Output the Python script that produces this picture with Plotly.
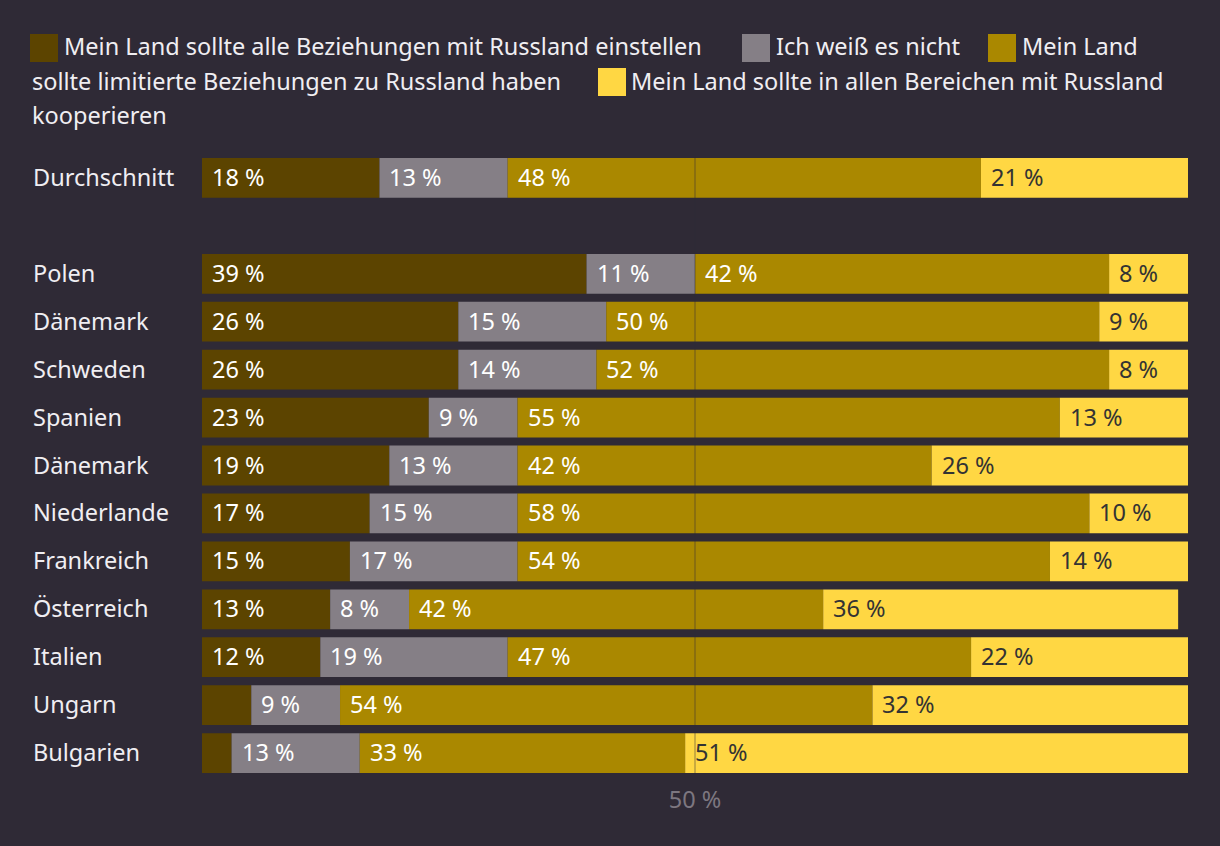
import plotly.graph_objects as go

# ---- data ----
countries = ["Durchschnitt", "Polen", "Dänemark", "Schweden", "Spanien", "Dänemark",
             "Niederlande", "Frankreich", "Österreich", "Italien", "Ungarn", "Bulgarien"]
slots = [0, 2, 3, 4, 5, 6, 7, 8, 9, 10, 11, 12]
end_rel = [18, 39, 26, 26, 23, 19, 17, 15, 13, 12, 5, 3]
dont_know = [13, 11, 15, 14, 9, 13, 15, 17, 8, 19, 9, 13]
limited = [48, 42, 50, 52, 55, 42, 58, 54, 42, 47, 54, 33]
cooperate = [21, 8, 9, 8, 13, 26, 10, 14, 36, 22, 32, 51]

series_names = ["Mein Land sollte alle Beziehungen mit Russland einstellen",
                "Ich weiß es nicht",
                "Mein Land sollte limitierte Beziehungen zu Russland haben",
                "Mein Land sollte in allen Bereichen mit Russland kooperieren"]
series_values = [end_rel, dont_know, limited, cooperate]
colors = ["#5c4400", "#857f86", "#aa8800", "#ffd743"]
label_colors = ["#ffffff", "#ffffff", "#ffffff", "#333333"]
x_ticks = [50]
x_ticklabels = ["50 %"]

BG = "#2f2a36"
FONT = "Noto Sans"
FS = 23.5

W, H = 1220, 846
ML, MR, MT, MB = 202, 32, 154, 69
PW, PH = W - ML - MR, H - MT - MB


def px_x(px):
    return (px - ML) / PW


def px_y(py):
    return (H - MB - py) / PH


fig = go.Figure()
annotations = []
bases_all = [[0] * len(slots)]
for i, vals in enumerate(series_values):
    base = bases_all[-1]
    fig.add_trace(go.Bar(
        y=slots, x=vals, base=base, orientation="h", width=0.83,
        marker=dict(color=colors[i], line=dict(width=0)),
        name=series_names[i], showlegend=False, hoverinfo="x+name"))
    for s, v, b in zip(slots, vals, base):
        if v >= 6:
            annotations.append(dict(
                x=b, y=s, xref="x", yref="y", text=f"{v} %", showarrow=False,
                xanchor="left", yanchor="middle", xshift=8, yshift=1,
                font=dict(family=FONT, size=FS, color=label_colors[i])))
    bases_all.append([b + v for b, v in zip(base, vals)])

# country labels, left-aligned
for c, s in zip(countries, slots):
    annotations.append(dict(
        x=px_x(31), y=s, xref="paper", yref="y", text=c, showarrow=False,
        xanchor="left", yanchor="middle", yshift=1,
        font=dict(family=FONT, size=FS, color="#f0eef2")))

# legend (flowing text with squares)
legend_font = dict(family=FONT, size=FS, color="#f0eef2")
legend_texts = [
    (62, 46, "Mein Land sollte alle Beziehungen mit Russland einstellen"),
    (774, 46, "Ich weiß es nicht"),
    (1020, 46, "Mein Land"),
    (30, 81, "sollte limitierte Beziehungen zu Russland haben"),
    (629, 81, "Mein Land sollte in allen Bereichen mit Russland"),
    (30, 115, "kooperieren"),
]
for x, y, t in legend_texts:
    annotations.append(dict(x=px_x(x), y=px_y(y), xref="paper", yref="paper", text=t,
                            showarrow=False, xanchor="left", yanchor="middle",
                            font=legend_font))

shapes = []
legend_squares = [(30, 34, 0), (742, 34, 1), (988, 34, 2), (598, 68, 3)]
for x, y, ci in legend_squares:
    shapes.append(dict(type="rect", xref="paper", yref="paper",
                       x0=px_x(x), x1=px_x(x + 28), y0=px_y(y + 28), y1=px_y(y),
                       fillcolor=colors[ci], line=dict(width=0), layer="above"))

# 50% reference line on top of bars
shapes.append(dict(type="line", xref="x", yref="y", x0=50, x1=50, y0=-0.42, y1=12.42,
                   line=dict(color="rgba(47,42,54,0.35)", width=1.5), layer="above"))

fig.update_layout(
    width=W, height=H, barmode="overlay",
    paper_bgcolor=BG, plot_bgcolor=BG,
    margin=dict(l=ML, r=MR, t=MT, b=MB),
    annotations=annotations, shapes=shapes,
    xaxis=dict(range=[0, 100], tickvals=x_ticks, ticktext=x_ticklabels,
               showgrid=False, zeroline=False, showline=False, ticks="",
               ticklabelstandoff=6,
               tickfont=dict(family=FONT, size=FS, color="#7d7780"), fixedrange=True),
    yaxis=dict(range=[12.5, -0.5], showticklabels=False, showgrid=False,
               zeroline=False, showline=False, ticks="", fixedrange=True),
    font=dict(family=FONT),
)

fig.write_html("out.html", config={"displayModeBar": False},
               post_script="document.body.style.margin='0';"
                           "document.body.style.background='#2f2a36';")
